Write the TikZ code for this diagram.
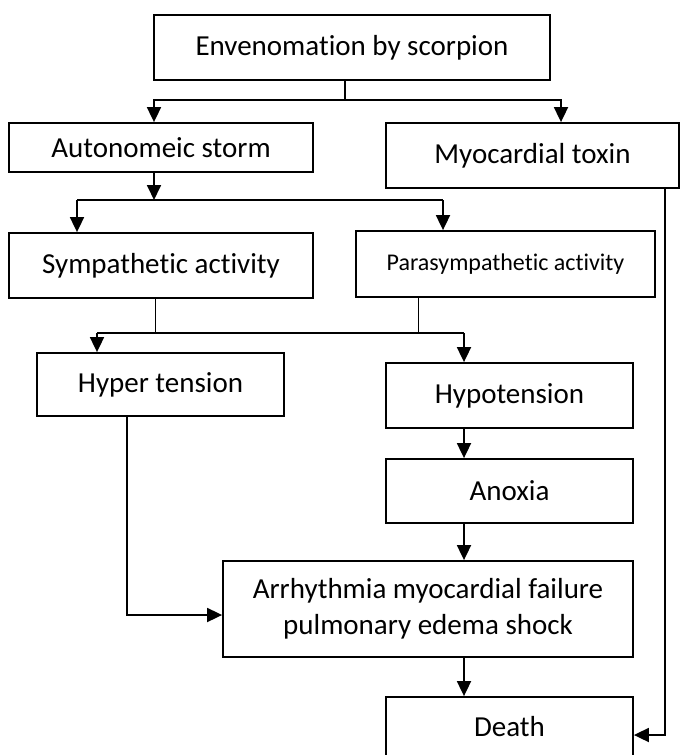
\documentclass[tikz,border=0pt]{standalone}
\usepackage{fontspec}
\setmainfont{Carlito}[Ligatures=NoCommon]
\usetikzlibrary{arrows.meta}
\begin{document}
\begin{tikzpicture}[x=1pt, y=-1pt, >={Triangle[length=15pt,width=14pt]}, line width=1.8pt,
  box/.style={draw, rectangle, inner sep=0pt, align=center, font=\fontsize{29}{36}\selectfont},
  stem/.style={line width=1pt}]
\useasboundingbox (0,0) rectangle (681,755);

\node[box, minimum width=396, minimum height=65] (env) at (352,47.5) {Envenomation by scorpion};
\node[box, minimum width=304, minimum height=49] (auto) at (161,147.5) {Autonomeic storm};
\node[box, minimum width=293, minimum height=65] (myo) at (532.5,155.5) {Myocardial toxin};
\node[box, minimum width=304, minimum height=65] (sym) at (161,265.5) {Sympathetic activity};
\node[box, minimum width=299, minimum height=66, font=\fontsize{24}{29}\selectfont] (para) at (505.5,264) {Parasympathetic activity};
\node[box, minimum width=247, minimum height=63] (hyper) at (160.5,384.5) {Hyper tension};
\node[box, minimum width=247, minimum height=65] (hypo) at (509.5,395.5) {Hypotension};
\node[box, minimum width=247, minimum height=64] (anox) at (509.5,491) {Anoxia};
\node[box, minimum width=410, minimum height=96] (arr) at (428,609) {Arrhythmia myocardial failure\\pulmonary edema shock};
\node[box, minimum width=247, minimum height=60] (death) at (509.5,727) {Death};

\coordinate (j1) at (345,100);
\coordinate (b1) at (154,100);
\coordinate (b2) at (561,100);
\draw (env.south -| j1) -- (j1);
\draw[->] (j1) -| (auto.north -| b1);
\draw[->] (j1) -| (myo.north -| b2);

\coordinate (j2) at (154,200);
\coordinate (s1) at (77,200);
\coordinate (s2) at (443,200);
\draw[->] (auto.south -| j2) -- (j2);
\draw (s1) -- (s2);
\draw[->] (s1) -- (s1 |- sym.north);
\draw[->] (s2) -- (s2 |- para.north);

\coordinate (k1) at (155,333);
\coordinate (k2) at (418,333);
\coordinate (h1) at (97,333);
\coordinate (h2) at (464,333);
\draw[stem] (sym.south -| k1) -- (k1);
\draw[stem] (para.south -| k2) -- (k2);
\draw (h1) -- (h2);
\draw[->] (h1) -- (h1 |- hyper.north);
\draw[->] (h2) -- (h2 |- hypo.north);
\draw[->] (hypo.south -| h2) -- (h2 |- anox.north);
\draw[->] (anox.south -| h2) -- (h2 |- arr.north);
\draw[->] (arr.south -| h2) -- (h2 |- death.north);

\coordinate (c1) at (127,615);
\coordinate (c2) at (665,735);
\draw[->] (hyper.south -| c1) -- (c1) -- (c1 -| arr.west);
\draw[->] (myo.south -| c2) -- (c2) -- (c2 -| death.east);

\end{tikzpicture}
\end{document}
